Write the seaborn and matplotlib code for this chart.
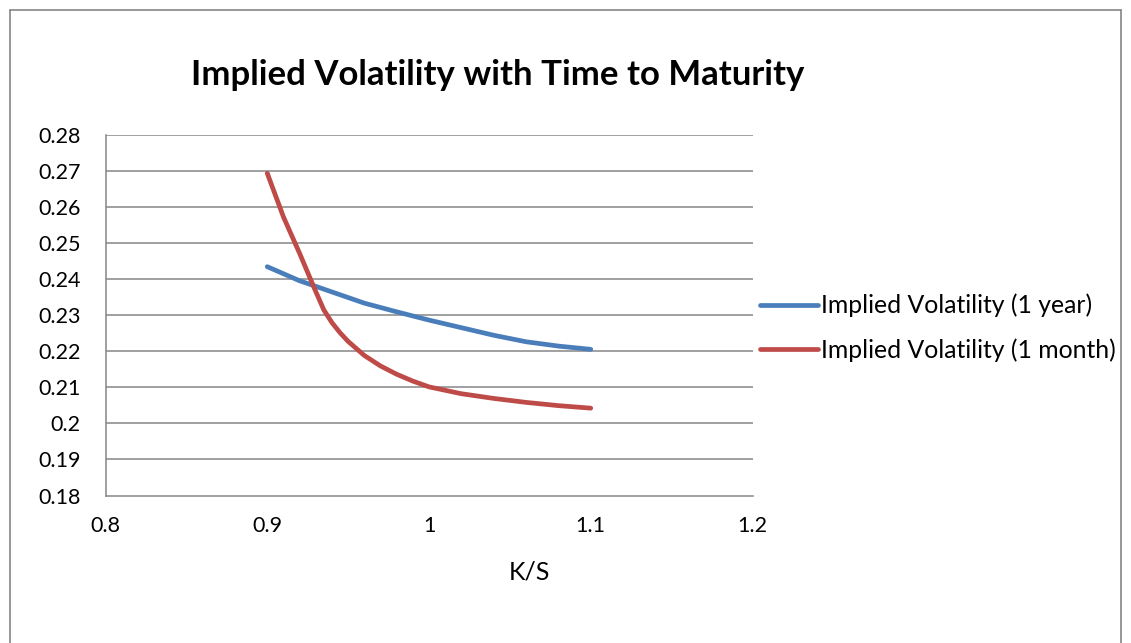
import matplotlib
matplotlib.use("Agg")
import matplotlib.pyplot as plt
import seaborn as sns
import pandas as pd
from matplotlib.lines import Line2D

# ---- data ----
ks_1y = [0.90, 0.92, 0.94, 0.96, 0.98, 1.00, 1.02, 1.04, 1.06, 1.08, 1.10]
iv_1y = [0.2434, 0.2395, 0.2364, 0.2333, 0.2309, 0.2286, 0.2265, 0.2244, 0.2226, 0.2214, 0.2205]

ks_1m = [0.90, 0.91, 0.92, 0.93, 0.935, 0.94, 0.945, 0.95, 0.96, 0.97, 0.98, 0.99, 1.00,
         1.02, 1.04, 1.06, 1.08, 1.10]
iv_1m = [0.2693, 0.2572, 0.2471, 0.2365, 0.2314, 0.2279, 0.2251, 0.2227, 0.2188, 0.2159, 0.2136,
         0.2117, 0.2101, 0.2082, 0.2069, 0.2058, 0.2049, 0.2042]

series_names = ["Implied Volatility (1 year)", "Implied Volatility (1 month)"]
series_colors = ["#4A7EBB", "#BE4B48"]

x_ticks = [0.8, 0.9, 1.0, 1.1, 1.2]
x_tick_labels = ["0.8", "0.9", "1", "1.1", "1.2"]
y_ticks = [0.18, 0.19, 0.2, 0.21, 0.22, 0.23, 0.24, 0.25, 0.26, 0.27, 0.28]
y_tick_labels = ["0.18", "0.19", "0.2", "0.21", "0.22", "0.23", "0.24", "0.25", "0.26", "0.27", "0.28"]

title = "Implied Volatility with Time to Maturity"
x_label = "K/S"

df = pd.concat([
    pd.DataFrame({"K/S": ks_1y, "IV": iv_1y, "series": series_names[0]}),
    pd.DataFrame({"K/S": ks_1m, "IV": iv_1m, "series": series_names[1]}),
], ignore_index=True)

sns.set_style("white")
plt.rcParams["font.family"] = ["Lato", "DejaVu Sans"]
plt.rcParams["text.color"] = "black"
plt.rcParams["axes.labelcolor"] = "black"

W, H = 1131, 643
fig = plt.figure(figsize=(W / 100, H / 100), dpi=100)
ax = fig.add_axes([105.5 / W, 1 - 495.5 / H, (752.5 - 105.5) / W, (495.5 - 134.6) / H])

grid_col = "#868686"
for yv in y_ticks[1:]:
    ax.axhline(yv, color=grid_col, lw=1.1, zorder=0)

sns.lineplot(data=df, x="K/S", y="IV", hue="series", hue_order=series_names,
             palette=series_colors, lw=3.4, ax=ax, legend=False,
             sort=False, estimator=None)
for ln in ax.get_lines():
    ln.set_solid_capstyle("round")
    ln.set_solid_joinstyle("round")

ax.set_xlim(0.8, 1.2)
ax.set_ylim(0.18, 0.28)
ax.set_xticks(x_ticks)
ax.set_xticklabels(x_tick_labels)
ax.set_yticks(y_ticks)
ax.set_yticklabels(y_tick_labels)
ax.tick_params(axis="both", which="major", labelsize=15.5, labelcolor="black",
               color=grid_col, length=6, width=1.1, direction="out")
ax.tick_params(axis="x", pad=9)
ax.tick_params(axis="y", pad=12)
for s in ["top", "right"]:
    ax.spines[s].set_visible(False)
for s in ["left", "bottom"]:
    ax.spines[s].set_color(grid_col)
    ax.spines[s].set_linewidth(1.1)
ax.set_xlabel(x_label, fontsize=18)
ax.xaxis.set_label_coords((529 - 105.5) / (752.5 - 105.5), -(572 - 495.5) / (495.5 - 134.6))
ax.xaxis.label.set_va("center")
ax.set_ylabel("")
ax.grid(False)

fig.text(498 / W, 1 - 75 / H, title, ha="center", va="center",
         fontsize=25, fontweight="bold", color="black")

handles = [Line2D([0], [0], color=c, lw=3.4, solid_capstyle="round") for c in series_colors]
fig.legend(handles, series_names, loc="center left",
           bbox_to_anchor=(760 / W, 1 - 328 / H), frameon=False,
           fontsize=17.8, handlelength=2.35, handletextpad=0.12,
           labelspacing=0.85, borderpad=0, borderaxespad=0)

# chart-area border
bc = "#868686"
fig.add_artist(Line2D([9.5 / W, 9.5 / W], [0, 1 - 9.5 / H], color=bc, lw=1.2))
fig.add_artist(Line2D([9.5 / W, 1121 / W], [1 - 9.5 / H, 1 - 9.5 / H], color=bc, lw=1.2))
fig.add_artist(Line2D([1121 / W, 1121 / W], [0, 1 - 9.5 / H], color=bc, lw=1.2))

fig.savefig("out.png", dpi=100)
